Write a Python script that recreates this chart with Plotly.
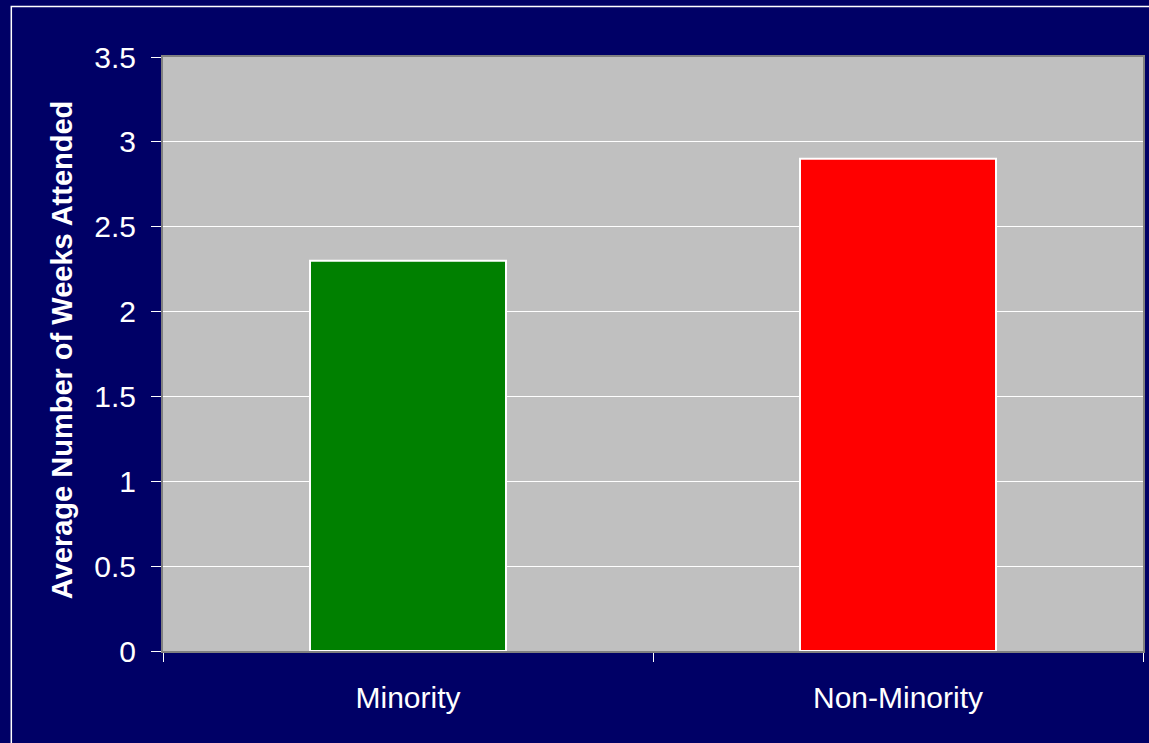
import plotly.graph_objects as go

categories = ["Minority", "Non-Minority"]
weeks_attended = [2.3, 2.9]
bar_colors = ["#008000", "#FF0000"]
y_tick_values = [0, 0.5, 1, 1.5, 2, 2.5, 3, 3.5]
y_tick_labels = ["0", "0.5", "1", "1.5", "2", "2.5", "3", "3.5"]

W, H = 1149, 743
ML, MR, MT, MB = 163, 4, 57, 92
pw = W - ML - MR
ph = H - MT - MB

fig = go.Figure(
    go.Bar(
        x=categories,
        y=weeks_attended,
        marker=dict(color=bar_colors, line=dict(color="white", width=2)),
        width=0.4,
    )
)

font_family = "Arial, Liberation Sans, sans-serif"

fig.update_layout(
    width=W,
    height=H,
    margin=dict(l=ML, r=MR, t=MT, b=MB, pad=0),
    paper_bgcolor="#000066",
    plot_bgcolor="#C0C0C0",
    showlegend=False,
    font=dict(family=font_family, color="white", size=30),
    xaxis=dict(
        type="category",
        tickson="boundaries",
        ticks="outside",
        ticklen=9,
        tickcolor="white",
        tickwidth=1,
        showgrid=False,
        showline=True,
        linecolor="#808080",
        linewidth=2,
        mirror=True,
        tickfont=dict(size=30, color="white"),
        ticklabelstandoff=19,
    ),
    yaxis=dict(
        range=[0, 3.5],
        tickvals=y_tick_values,
        ticktext=y_tick_labels,
        ticks="outside",
        ticklen=10,
        tickcolor="white",
        tickwidth=1,
        showgrid=True,
        gridcolor="white",
        gridwidth=1,
        zeroline=False,
        showline=True,
        linecolor="#808080",
        linewidth=2,
        mirror=True,
        tickfont=dict(size=30, color="white"),
        ticklabelstandoff=9,
    ),
    annotations=[
        dict(
            text="<b>Average Number of Weeks Attended</b>",
            xref="paper",
            yref="paper",
            x=(62 - ML) / pw,
            y=(651 - 350) / ph,
            xanchor="center",
            yanchor="middle",
            textangle=-90,
            showarrow=False,
            font=dict(size=29, color="white", family=font_family),
        )
    ],
    shapes=[
        # thin white frame around the chart area
        dict(
            type="rect",
            xref="paper",
            yref="paper",
            x0=(11 - ML) / pw,
            x1=(W + 20 - ML) / pw,
            y0=-(H + 20 - MT - ph) / ph,
            y1=1 + (MT - 6.5) / ph,
            line=dict(color="white", width=1.5),
            fillcolor="rgba(0,0,0,0)",
            layer="below",
        )
    ],
)

fig.write_html("out.html")
